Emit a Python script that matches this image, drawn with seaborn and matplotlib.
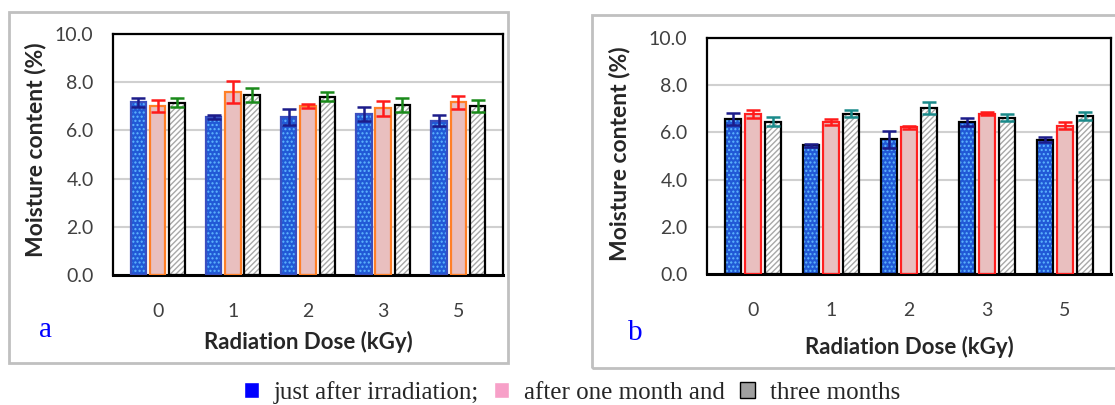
import numpy as np
import pandas as pd
import matplotlib
matplotlib.use("Agg")
import matplotlib.pyplot as plt
import seaborn as sns
from matplotlib.patches import Rectangle, Patch

doses = ["0", "1", "2", "3", "5"]
periods = ["just after irradiation", "after one month", "three months"]

# panel a: means and error half-widths
a_just = [7.17, 6.55, 6.54, 6.69, 6.41]
a_month = [7.00, 7.58, 7.02, 6.91, 7.16]
a_three = [7.15, 7.48, 7.40, 7.06, 7.00]
a_just_err = [0.19, 0.08, 0.33, 0.30, 0.21]
a_month_err = [0.25, 0.45, 0.09, 0.30, 0.26]
a_three_err = [0.18, 0.30, 0.20, 0.30, 0.25]

# panel b
b_just = [6.56, 5.45, 5.70, 6.45, 5.69]
b_month = [6.79, 6.45, 6.21, 6.80, 6.29]
b_three = [6.45, 6.79, 7.04, 6.63, 6.70]
b_just_err = [0.25, 0.07, 0.38, 0.16, 0.10]
b_month_err = [0.16, 0.12, 0.07, 0.08, 0.16]
b_three_err = [0.19, 0.14, 0.25, 0.15, 0.18]

sns.set_style("white")
plt.rcParams["font.family"] = ["Lato", "DejaVu Sans"]
plt.rcParams["hatch.linewidth"] = 1.0

W, H = 1115, 405
fig = plt.figure(figsize=(W / 100, H / 100), dpi=100)


def draw_panel(ax, means, errs, outline, err_colors):
    df = pd.DataFrame({
        "dose": doses * 3,
        "period": np.repeat(periods, len(doses)),
        "moisture": np.concatenate(means),
    })
    sns.barplot(data=df, x="dose", y="moisture", hue="period", order=doses,
                hue_order=periods, width=0.77, gap=0.2, errorbar=None,
                legend=False, ax=ax)
    faces = ["#2159d6", "#e9bfbf", "white"]
    hatches = ["....", "", "//////"]
    hatch_cols = ["#5fb8ff", "#e9bfbf", "#a8a8a8"]
    bar_conts = list(ax.containers)
    for i, cont in enumerate(bar_conts):
        for bar, e in zip(cont, errs[i]):
            bar.set_facecolor(faces[i])
            bar.set_hatch(hatches[i])
            bar.set_edgecolor(hatch_cols[i])
            bar.set_linewidth(0)
            ax.add_patch(Rectangle(bar.get_xy(), bar.get_width(), bar.get_height(),
                                   fill=False, edgecolor=outline[i], lw=1.6, zorder=3))
            ax.errorbar(bar.get_x() + bar.get_width() / 2, bar.get_height(), yerr=e,
                        fmt="none", ecolor=err_colors[i], elinewidth=1.8,
                        capsize=5, capthick=1.8, zorder=4)
    ax.set_ylim(0, 10)
    ax.set_yticks(np.arange(0, 10.1, 2))
    ax.set_yticklabels([f"{v:.1f}" for v in np.arange(0, 10.1, 2)])
    ax.yaxis.grid(True, color="#d0d0d0", lw=1.5)
    ax.set_axisbelow(True)
    for s in ax.spines.values():
        s.set_color("black")
        s.set_linewidth(1.6)
    ax.spines["bottom"].set_linewidth(2.2)
    ax.tick_params(axis="x", length=0, pad=20, labelsize=14, labelcolor="#404040")
    ax.tick_params(axis="y", length=0, pad=14, labelsize=14, labelcolor="#404040")
    ax.set_xlabel("Radiation Dose (kGy)", fontsize=16, fontweight="bold")
    ax.set_ylabel("Moisture content (%)", fontsize=16.5, fontweight="bold")


ax_a = fig.add_axes([113 / W, 1 - 275 / H, 390 / W, 241 / H])
draw_panel(ax_a, [a_just, a_month, a_three],
           [a_just_err, a_month_err, a_three_err],
           ["#3a4fc0", "#ff7f27", "black"],
           ["#1c1c8a", "#ff1a1a", "#1a8a1a"])
ax_a.xaxis.set_label_coords(0.5, -0.232)
ax_a.yaxis.set_label_coords(-0.172, 0.52)

ax_b = fig.add_axes([707 / W, 1 - 274 / H, 404 / W, 236 / H])
draw_panel(ax_b, [b_just, b_month, b_three],
           [b_just_err, b_month_err, b_three_err],
           ["black", "#ff2020", "black"],
           ["#1c1c8a", "#ff1a1a", "#1a8a8a"])
ax_b.xaxis.set_label_coords(0.502, -0.262)
ax_b.yaxis.set_label_coords(-0.19, 0.51)

# grey frames around each panel
fig.add_artist(Rectangle((9 / W, 1 - 363 / H), 499 / W, 351 / H, transform=fig.transFigure,
                         fill=False, edgecolor="#c0c0c0", lw=2))
fig.add_artist(Rectangle((592 / W, 1 - 368 / H), 540 / W, 353 / H, transform=fig.transFigure,
                         fill=False, edgecolor="#c0c0c0", lw=2))

fig.text(45 / W, 1 - 337 / H, "a", color="blue", family="Liberation Serif",
         fontsize=21, ha="center", va="baseline")
fig.text(635 / W, 1 - 340 / H, "b", color="blue", family="Liberation Serif",
         fontsize=21, ha="center", va="baseline")

handles = [Patch(facecolor="blue"), Patch(facecolor="#f7a0c8"),
           Patch(facecolor="#a0a0a0", edgecolor="black", lw=1)]
labels = ["just after irradiation;", "after one month and", "three months"]
fig.legend(handles, labels, loc="center", bbox_to_anchor=(0.513, 0.032), ncol=3,
           frameon=False, prop={"family": "Liberation Serif", "size": 18},
           handlelength=0.6, handleheight=0.6, handletextpad=0.6,
           columnspacing=0.6, borderpad=0)

fig.savefig("out.png", dpi=100)
